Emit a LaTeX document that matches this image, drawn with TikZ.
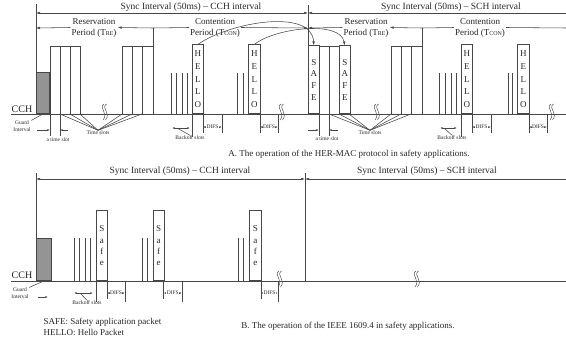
\documentclass[tikz,border=0pt]{standalone}
\usepackage{fontspec}
\setmainfont{Liberation Serif}
\usetikzlibrary{arrows.meta}

% break sign on a channel line
\newcommand{\breakmark}[2]{%
  \draw[brk] (#1+1,#2-10) .. controls (#1-5,#2-6) and (#1+6,#2-1) .. (#1,#2+6);
  \draw[brk] (#1+3.5,#2-10) .. controls (#1-2.5,#2-6) and (#1+8.5,#2-1) .. (#1+2.5,#2+6);
}
\newcommand{\sm}[1]{{\fontsize{6}{6}\selectfont #1}}

\begin{document}
\begin{tikzpicture}[
  x=1pt, y=-1pt, line width=0.55pt, draw=black!72, text=black!85,
  pkt/.style={draw, anchor=south west, inner sep=0pt, align=center, minimum width=11pt, font=\fontsize{9}{12.7}\selectfont},
  safe/.style={pkt, font=\fontsize{9}{11.7}\selectfont},
  guard/.style={draw, fill=black!42, anchor=south west, inner sep=0pt, minimum width=13pt, minimum height=41pt},
  period/.style={fill=white, align=center, inner sep=1pt, font=\fontsize{9}{11}\selectfont},
  sync/.style={font=\fontsize{9.5}{11}\selectfont},
  chan/.style={font=\fontsize{10}{12}\selectfont},
  tiny/.style={font=\fontsize{5.5}{6.8}\selectfont, inner sep=0.5pt},
  captxt/.style={font=\fontsize{9}{11}\selectfont},
  arr/.style={-{Latex[length=4pt,width=2.6pt]}},
  arrs/.style={{Latex[length=4pt,width=2.6pt]}-{Latex[length=4pt,width=2.6pt]}},
  sarr/.style={-{Latex[length=2.6pt,width=1.8pt]}},
  darr/.style={{Latex[length=2.6pt,width=1.8pt]}-{Latex[length=2.6pt,width=1.8pt]}},
  brk/.style={line width=0.45pt}
]
\useasboundingbox (0,0) rectangle (566,340);

% ================= A. HER-MAC =================
\node[chan] (cchA) at (22,109) {CCH};
\draw (11,114) -- (566,114);
\draw (36,4) -- (36,114);
\draw (308,5) -- (308,114);
\draw (153,28) -- (153,114);
\draw (422,28) -- (422,114);

\node[sync] (syncA1) at (191,7) {Sync Interval (50ms) -- CCH interval};
\node[sync] (syncA2) at (451,7) {Sync Interval (50ms) -- SCH interval};
\draw[arrs] (36,13) -- (308,13);
\draw[arr] (566,13) -- (308,13);

\node[period] (resA1) at (94,27.5) {Reservation\\Period (T\sm{RE})};
\node[period] (conA1) at (215,27.5) {Contention\\Period (T\sm{CON})};
\node[period] (resA2) at (366,27.5) {Reservation\\Period (T\sm{RE})};
\node[period] (conA2) at (480,27.5) {Contention\\Period (T\sm{CON})};
\draw[arr] (resA1.west) -- (36,28);
\draw[arr] (153,28) -- (resA1.east);
\draw (153,28) -- (conA1.west);
\draw[arr] (conA1.east) -- (308,28);
\draw[arr] (resA2.west) -- (308,28);
\draw[arr] (422,28) -- (resA2.east);
\draw (422,28) -- (conA2.west);
\draw (conA2.east) -- (566,28);

% CCH part
\node[guard] (gbA) at (36,114) {};
\foreach \x in {50,60,70} \draw (\x,46) rectangle ++(10,68);
\foreach \x in {122,132.3,142.6} \draw (\x,46) rectangle ++(10.4,68);
\breakmark{103}{114}
\foreach \x in {171,176,182,187} \draw (\x,73) -- (\x,114);
\node[pkt, minimum height=69pt] (helloA1) at (192,114) {H\\E\\L\\L\\O};
\foreach \x in {237,243} \draw (\x,73) -- (\x,114);
\node[pkt, minimum height=69pt, minimum width=12pt] (helloA2) at (248,114) {H\\E\\L\\L\\O};
\breakmark{280}{114}

% SCH part
\node[safe, minimum height=68pt] (safeA1) at (308,114) {S\\A\\F\\E};
\draw (319,46) rectangle (329,114);
\draw (329,46) rectangle (339,114);
\node[safe, minimum height=68pt] (safeA2) at (339,114) {S\\A\\F\\E};
\breakmark{375}{114}
\foreach \x in {391,401.3,411.6} \draw (\x,46) rectangle ++(10.4,68);
\foreach \x in {439,445,451,456} \draw (\x,73) -- (\x,114);
\node[pkt, minimum height=69pt] (helloA3) at (461,114) {H\\E\\L\\L\\O};
\foreach \x in {508,512} \draw (\x,73) -- (\x,114);
\node[pkt, minimum height=69pt, minimum width=12pt] (helloA4) at (517,114) {H\\E\\L\\L\\O};
\breakmark{550}{114}

% safety packets rebroadcast
\draw[arr] (helloA1.north) .. controls (230,22) and (312,8) .. (safeA1.north);
\draw[arr] (helloA2.north) .. controls (275,28) and (340,20) .. (safeA2.north);

% annotations below CCH line
\node[tiny, align=center] (gtA) at (22,126.5) {Guard\\Interval};
\draw (gtA.north east) -- (gbA.south);
\draw[sarr] (37,130) -- (50,130);
\draw (50,114) -- (50,136);
\draw (60,114) -- (60,136);
\draw[sarr] (68,130) -- (60,130);
\node[tiny] (slotA1) at (58,140) {a time slot};
\node[tiny] (fanA1) at (98,133) {Time slots};
\foreach \x in {60,70,80,122,132,142} \draw (fanA1.north) -- (\x,114);
\draw[darr] (172,128) -- (190,128);
\node[tiny] (boA1) at (190,138) {Backoff slots};
\draw (177,128) -- (boA1.north);
\draw (192,114) -- (192,137);
\draw (203,114) -- (203,133);
\draw (222,114) -- (222,133);
\draw[darr] (203,127) -- node[tiny, fill=white] {DIFS} (222,127);
\draw (260,114) -- (260,133);
\draw (278,114) -- (278,133);
\draw[darr] (260,127) -- node[tiny, fill=white] {DIFS} (278,127);

\draw[sarr] (308,130) -- (319,130);
\draw (319,114) -- (319,136);
\draw (329,114) -- (329,136);
\draw[sarr] (338,130) -- (329,130);
\node[tiny] (slotA2) at (327,139) {a time slot};
\node[tiny] (fanA2) at (370,133) {Time slots};
\foreach \x in {329,339,349,391,401,411} \draw (fanA2.north) -- (\x,114);
\draw[darr] (440,128) -- (457,128);
\node[tiny] (boA2) at (452,138) {Backoff slots};
\draw (444,128) -- (boA2.north);
\draw (461,114) -- (461,137);
\draw (472,114) -- (472,133);
\draw (491,114) -- (491,133);
\draw[darr] (472,127) -- node[tiny, fill=white] {DIFS} (491,127);
\draw (529,114) -- (529,133);
\draw (547,114) -- (547,133);
\draw[darr] (529,127) -- node[tiny, fill=white] {DIFS} (547,127);

\node[captxt] (capA) at (349,154) {A. The operation of the HER-MAC protocol in safety applications.};

% ================= B. IEEE 1609.4 =================
\node[sync] (syncB1) at (180,171) {Sync Interval (50ms) -- CCH interval};
\node[sync] (syncB2) at (427,171) {Sync Interval (50ms) -- SCH interval};
\draw[arrs] (36,179) -- (305,179);
\draw[arr] (566,179) -- (305,179);
\draw (36,173) -- (36,281);
\draw (305,173) -- (305,281);

\node[chan] (cchB) at (22,275) {CCH};
\draw (11,281) -- (566,281);
\node[guard, minimum width=15pt, minimum height=42pt] (gbB) at (36,281) {};
\foreach \x in {74,79,85,90} \draw (\x,238) -- (\x,281);
\node[safe, minimum height=70pt, font=\fontsize{9}{11.3}\selectfont] (safeB1) at (96,281) {S\\a\\f\\e};
\foreach \x in {142,147} \draw (\x,238) -- (\x,281);
\node[safe, minimum height=70pt, minimum width=10.5pt, font=\fontsize{9}{11.3}\selectfont] (safeB2) at (153,281) {S\\a\\f\\e};
\foreach \x in {238,243} \draw (\x,238) -- (\x,281);
\node[safe, minimum height=70pt, minimum width=12pt, font=\fontsize{9}{11.3}\selectfont] (safeB3) at (249,281) {S\\a\\f\\e};
\breakmark{278}{281}
\breakmark{415}{281}

\node[tiny, align=center] (gtB) at (20,293.5) {Guard\\Interval};
\draw (gtB.north east) -- (gbB.south);
\draw[sarr] (38,297) -- (48,297);
\draw[darr] (74,293) -- (93,293);
\node[tiny] (boB) at (87,303) {Backoff slots};
\draw (80,293) -- (boB.north);
\draw (96,281) -- (96,302);
\draw (107,281) -- (107,299);
\draw (125,281) -- (125,302);
\draw[darr] (107,293) -- node[tiny, fill=white] {DIFS} (125,293);
\draw (163.5,281) -- (163.5,299);
\draw (182,281) -- (182,302);
\draw[darr] (163.5,293) -- node[tiny, fill=white] {DIFS} (182,293);
\draw (261,281) -- (261,299);
\draw (278,281) -- (278,302);
\draw[darr] (261,293) -- node[tiny, fill=white] {DIFS} (278,293);

\node[captxt, anchor=west, align=left] (legend) at (40,327) {SAFE: Safety application packet\\HELLO: Hello Packet};
\node[captxt] (capB) at (348,326) {B. The operation of the IEEE 1609.4 in safety applications.};
\end{tikzpicture}
\end{document}
